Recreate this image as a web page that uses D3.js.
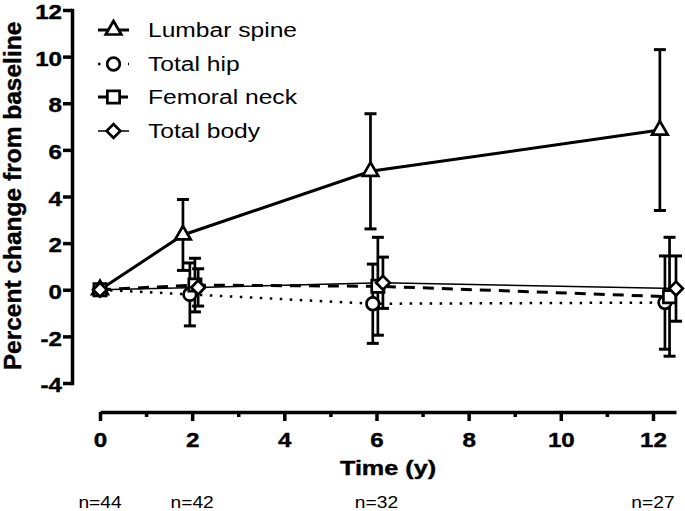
<!DOCTYPE html>
<html>
<head>
<meta charset="utf-8">
<script src="https://cdn.jsdelivr.net/npm/d3@7"></script>
<style>
  html, body { margin: 0; padding: 0; background: #fff; }
  svg { display: block; font-family: "Liberation Sans", Arial, sans-serif; }
</style>
</head>
<body>
<script>
// ---------- data ----------
const seriesNames = ["Lumbar spine", "Total hip", "Femoral neck", "Total body"];
const lumbarX = [0, 1.8, 5.87, 12.15];
const lumbarY = [0, 2.35, 5.08, 6.85];
const lumbarErr = [0, 1.52, 2.47, 3.45];
const hipX = [0, 1.95, 5.92, 12.26];
const hipY = [0, -0.2, -0.6, -0.55];
const hipErr = [0, 1.35, 1.7, 2.0];
const neckX = [0, 2.06, 6.03, 12.36];
const neckY = [0, 0.2, 0.15, -0.3];
const neckErr = [0, 1.15, 2.1, 2.55];
const bodyX = [0, 2.13, 6.14, 12.5];
const bodyY = [0, 0.1, 0.3, 0.05];
const bodyErr = [0, 0.8, 1.1, 1.4];
const xTicks = [0, 2, 4, 6, 8, 10, 12];
const xMinorTicks = [1, 3, 5, 7, 9, 11];
const yTicks = [-4, -2, 0, 2, 4, 6, 8, 10, 12];
const nTimes = [0, 2, 6, 12];
const nLabels = ["n=44", "n=42", "n=32", "n=27"];
const xTitle = "Time (y)";
const yTitle = "Percent change from baseline";

// ---------- styles ----------
const styles = [
  { symbol: "triangle", width: 3, dash: null },
  { symbol: "circle", width: 2.5, dash: "2.5,7.5" },
  { symbol: "square", width: 3, dash: "11,8" },
  { symbol: "diamond", width: 1.5, dash: null }
];
const build = (xs, ys, es) => xs.map((v, i) => ({ x: v, y: ys[i], e: es[i] }));
const series = [
  build(lumbarX, lumbarY, lumbarErr),
  build(hipX, hipY, hipErr),
  build(neckX, neckY, neckErr),
  build(bodyX, bodyY, bodyErr)
];

const W = 685, H = 511;
const svg = d3.select("body").append("svg").attr("width", W).attr("height", H);

const x = d3.scaleLinear().domain([0, 12.5]).range([100, 676]);
const y = d3.scaleLinear().domain([-4, 12]).range([383, 10]);

const boldText = (sel) => sel.attr("font-weight", "bold").attr("fill", "#000")
  .attr("stroke", "#000").attr("stroke-width", 0.4)
  .attr("font-family", "'Liberation Sans', Arial, sans-serif");

// ---------- axes ----------
const yAxis = svg.append("g").attr("transform", "translate(72,0)")
  .call(d3.axisLeft(y).tickValues(yTicks).tickFormat((d) => String(d))
    .tickSize(9).tickSizeOuter(0).tickPadding(1));
yAxis.select(".domain").attr("stroke-width", 3.5).attr("stroke-linecap", "square");
yAxis.selectAll(".tick line").attr("stroke-width", 3.5);
yAxis.selectAll(".tick text")
  .attr("font-size", 21)
  .call(boldText)
  .each(function () {
    const t = d3.select(this);
    const xx = +t.attr("x");
    t.attr("x", 0).attr("transform", `translate(${xx},2) scale(1.15,1)`);
  });

const xAxis = svg.append("g").attr("transform", "translate(0,412)")
  .call(d3.axisBottom(x).tickValues(xTicks).tickFormat((d) => String(d))
    .tickSize(9).tickSizeOuter(0).tickPadding(11));
xAxis.select(".domain").attr("stroke-width", 3.5);
xAxis.selectAll(".tick line").attr("stroke-width", 3.5);
xAxis.selectAll(".tick text")
  .attr("font-size", 21)
  .call(boldText)
  .each(function () {
    const t = d3.select(this);
    const yy = +t.attr("y");
    t.attr("y", 0).attr("transform", `translate(0,${yy}) scale(1.15,1)`);
  });

const xMinor = svg.append("g").attr("transform", "translate(0,412)")
  .call(d3.axisBottom(x).tickValues(xMinorTicks).tickSize(5).tickSizeOuter(0).tickFormat(""));
xMinor.select(".domain").remove();
xMinor.selectAll(".tick line").attr("stroke-width", 3.5);

// ---------- titles ----------
svg.append("text")
  .attr("transform", "translate(388,475) scale(1.2,1)")
  .attr("text-anchor", "middle").attr("font-size", 21)
  .call(boldText)
  .text(xTitle);

svg.append("text")
  .attr("transform", "translate(21,196) rotate(-90)")
  .attr("text-anchor", "middle").attr("font-size", 24.5)
  .call(boldText)
  .text(yTitle);

svg.append("g").selectAll("text").data(nTimes).join("text")
  .attr("transform", (d) => `translate(${x(d)},508) scale(1.2,1)`)
  .attr("text-anchor", "middle").attr("font-size", 16)
  .text((d, i) => nLabels[i]);

// ---------- symbols ----------
function symbolPath(kind) {
  if (kind === "triangle") return d3.symbol(d3.symbolTriangle, 105)();
  if (kind === "circle") return d3.symbol(d3.symbolCircle, 125)();
  if (kind === "square") return d3.symbol(d3.symbolSquare, 150)();
  return d3.symbol(d3.symbolSquare, 95)();
}
function symbolRot(kind) { return kind === "diamond" ? " rotate(45)" : ""; }

const plot = svg.append("g");
const line = d3.line().x((d) => x(d.x)).y((d) => y(d.y));

// lines
series.forEach((data, si) => {
  const st = styles[si];
  plot.append("path").datum(data)
    .attr("d", line).attr("fill", "none").attr("stroke", "#000")
    .attr("stroke-width", st.width)
    .attr("stroke-dasharray", st.dash);
});

// error bars
series.forEach((data) => {
  const g = plot.append("g").attr("stroke", "#000").attr("stroke-width", 2.7);
  const eb = data.filter((d) => d.e > 0);
  g.selectAll(".v").data(eb).join("line")
    .attr("x1", (d) => x(d.x)).attr("x2", (d) => x(d.x))
    .attr("y1", (d) => y(d.y + d.e)).attr("y2", (d) => y(d.y - d.e));
  g.selectAll(".t").data(eb).join("line").attr("stroke-width", 3)
    .attr("x1", (d) => x(d.x) - 6).attr("x2", (d) => x(d.x) + 6)
    .attr("y1", (d) => y(d.y + d.e)).attr("y2", (d) => y(d.y + d.e));
  g.selectAll(".b").data(eb).join("line").attr("stroke-width", 3)
    .attr("x1", (d) => x(d.x) - 6).attr("x2", (d) => x(d.x) + 6)
    .attr("y1", (d) => y(d.y - d.e)).attr("y2", (d) => y(d.y - d.e));
});

// markers
series.forEach((data, si) => {
  const st = styles[si];
  plot.append("g").selectAll("path").data(data).join("path")
    .attr("d", symbolPath(st.symbol))
    .attr("transform", (d) => `translate(${x(d.x)},${y(d.y)})${symbolRot(st.symbol)}`)
    .attr("fill", "#fff").attr("stroke", "#000").attr("stroke-width", 2.7);
});

// ---------- legend ----------
const legendRows = [30, 64, 97, 131];
const leg = svg.append("g");
seriesNames.forEach((name, i) => {
  const st = styles[i];
  const ry = legendRows[i];
  leg.append("line").attr("x1", 98).attr("x2", 129).attr("y1", ry).attr("y2", ry)
    .attr("stroke", "#000").attr("stroke-width", st.width).attr("stroke-dasharray", st.dash);
  leg.append("path").attr("d", symbolPath(st.symbol))
    .attr("transform", `translate(113.5,${ry})${symbolRot(st.symbol)}`)
    .attr("fill", "#fff").attr("stroke", "#000").attr("stroke-width", 2.7);
  leg.append("text").attr("transform", `translate(148,${ry + 7}) scale(1.23,1)`)
    .attr("font-size", 20).attr("fill", "#000").text(name);
});
</script>
</body>
</html>
